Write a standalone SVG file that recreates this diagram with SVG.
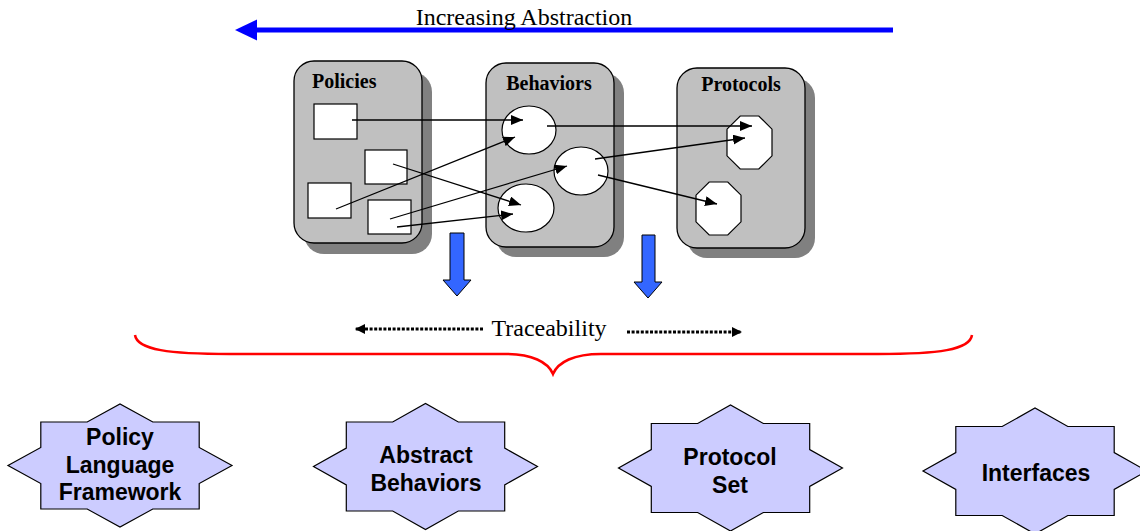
<svg xmlns="http://www.w3.org/2000/svg" width="1140" height="531" viewBox="0 0 1140 531">
<style>
.box{fill:#C0C0C0;stroke:#000;stroke-width:1.3}
.shadow{fill:#808080}
.shape{fill:#fff;stroke:#000;stroke-width:1.2}
.conn{stroke:#000;stroke-width:1.3;fill:none}
.title{font-family:"Liberation Serif","Times New Roman",serif;font-weight:bold;font-size:20px;fill:#000}
.serif{font-family:"Liberation Serif","Times New Roman",serif;font-size:24px;fill:#000}
.star{fill:#CCCCFF;stroke:#000;stroke-width:1.2}
.st{font-family:"Liberation Sans",Arial,sans-serif;font-weight:bold;font-size:23px;fill:#000;text-anchor:middle}
.down{fill:#3366FF;stroke:#000;stroke-width:1}
.dot{stroke:#000;stroke-width:3.2;stroke-dasharray:3 1.6;fill:none}
</style>
<defs>
<marker id="ah" viewBox="0 0 12 10" refX="12" refY="5" markerWidth="12" markerHeight="10" orient="auto" markerUnits="userSpaceOnUse"><path d="M0,0 L12,5 L0,10 z" fill="#000"/></marker>
<marker id="dh" viewBox="0 0 10 10" refX="10" refY="5" markerWidth="10" markerHeight="10" orient="auto" markerUnits="userSpaceOnUse"><path d="M0,0 L10,5 L0,10 z" fill="#000"/></marker>
</defs>

<g id="abstraction">
<line x1="893" y1="30" x2="255" y2="30" stroke="#0000FF" stroke-width="5"/>
<polygon points="235,30 257,19.5 257,40.5" fill="#0000FF"/>
<text class="serif" x="524" y="25" text-anchor="middle">Increasing Abstraction</text>
</g>

<g id="policies">
<rect class="shadow" x="304" y="72" width="128" height="182" rx="20"/>
<rect class="box" x="294" y="61" width="128" height="182" rx="20"/>
<text class="title" x="312" y="88">Policies</text>
<rect class="shape" x="314" y="104" width="43" height="35"/>
<rect class="shape" x="365" y="150" width="42" height="34"/>
<rect class="shape" x="308" y="183" width="43" height="35"/>
<rect class="shape" x="368" y="200" width="43" height="34"/>
</g>

<g id="behaviors">
<rect class="shadow" x="496" y="73" width="128" height="184" rx="20"/>
<rect class="box" x="486" y="63" width="128" height="184" rx="20"/>
<text class="title" x="549" y="90" text-anchor="middle">Behaviors</text>
<ellipse class="shape" cx="529" cy="130" rx="27" ry="24"/>
<ellipse class="shape" cx="581" cy="171" rx="27" ry="24"/>
<ellipse class="shape" cx="526" cy="208" rx="28" ry="24"/>
</g>

<g id="protocols">
<rect class="shadow" x="687" y="78" width="128" height="180" rx="20"/>
<rect class="box" x="677" y="68" width="128" height="180" rx="20"/>
<text class="title" x="741" y="91" text-anchor="middle">Protocols</text>
<polygon class="shape" points="740.2,116 758.8,116 772,129.2 772,155.8 758.8,169 740.2,169 727,155.8 727,129.2"/>
<polygon class="shape" points="709.2,182 727.8,182 741,195.2 741,221.8 727.8,235 709.2,235 696,221.8 696,195.2"/>
</g>

<g id="connectors">
<line class="conn" x1="352" y1="120" x2="523" y2="120" marker-end="url(#ah)"/>
<line class="conn" x1="336" y1="209" x2="515" y2="137" marker-end="url(#ah)"/>
<line class="conn" x1="393" y1="164" x2="521" y2="205" marker-end="url(#ah)"/>
<line class="conn" x1="390" y1="219" x2="567" y2="166" marker-end="url(#ah)"/>
<line class="conn" x1="397" y1="227" x2="513" y2="214" marker-end="url(#ah)"/>
<line class="conn" x1="547" y1="126" x2="752" y2="126" marker-end="url(#ah)"/>
<line class="conn" x1="595" y1="159" x2="745" y2="138" marker-end="url(#ah)"/>
<line class="conn" x1="598" y1="175" x2="717" y2="204" marker-end="url(#ah)"/>
</g>

<g id="down-arrows">
<polygon class="down" points="450,233 464,233 464,280 471,280 457,296 443,280 450,280"/>
<polygon class="down" points="642,235 655,235 655,282 662,282 648,298 634,282 642,282"/>
</g>

<g id="traceability">
<line class="dot" x1="483" y1="329" x2="355" y2="329" marker-end="url(#dh)"/>
<line class="dot" x1="627" y1="332" x2="742" y2="332" marker-end="url(#dh)"/>
<text class="serif" x="549" y="336" text-anchor="middle">Traceability</text>
</g>

<g id="brace">
<path d="M135,335 C137,350 170,354 230,354 L505,354 C532,354 548,362 553,374 C558,362 574,354 601,354 L878,354 C938,354 970,350 972,335" fill="none" stroke="#FF0000" stroke-width="2.5"/>
</g>

<g id="policy-language-framework">
<polygon class="star" points="232,465.5 199.2,483.5 199.2,509 152.8,509 120,527 87.2,509 40.8,509 40.8,483.5 8,465.5 40.8,447.5 40.8,422 87.2,422 120,404 152.8,422 199.2,422 199.2,447.5"/>
<text class="st" x="120" y="445">Policy</text>
<text class="st" x="120" y="473">Language</text>
<text class="st" x="120" y="500">Framework</text>
</g>

<g id="abstract-behaviors">
<polygon class="star" points="537.5,466.5 504.7,484.9 504.7,511 458.3,511 425.5,529.5 392.7,511 346.3,511 346.3,484.9 313.5,466.5 346.3,448.1 346.3,422 392.7,422 425.5,403.5 458.3,422 504.7,422 504.7,448.1"/>
<text class="st" x="426" y="463">Abstract</text>
<text class="st" x="426" y="491">Behaviors</text>
</g>

<g id="protocol-set">
<polygon class="star" points="842.5,468 809.7,486.4 809.7,512.5 763.3,512.5 730.5,531 697.7,512.5 651.3,512.5 651.3,486.4 618.5,468 651.3,449.6 651.3,423.5 697.7,423.5 730.5,405 763.3,423.5 809.7,423.5 809.7,449.6"/>
<text class="st" x="730" y="465">Protocol</text>
<text class="st" x="730" y="493">Set</text>
</g>

<g id="interfaces">
<polygon class="star" points="1147,471 1114.2,489.4 1114.2,515.5 1067.8,515.5 1035,534 1002.2,515.5 955.8,515.5 955.8,489.4 923,471 955.8,452.6 955.8,426.5 1002.2,426.5 1035,408 1067.8,426.5 1114.2,426.5 1114.2,452.6"/>
<text class="st" x="1036" y="481">Interfaces</text>
</g>
</svg>
